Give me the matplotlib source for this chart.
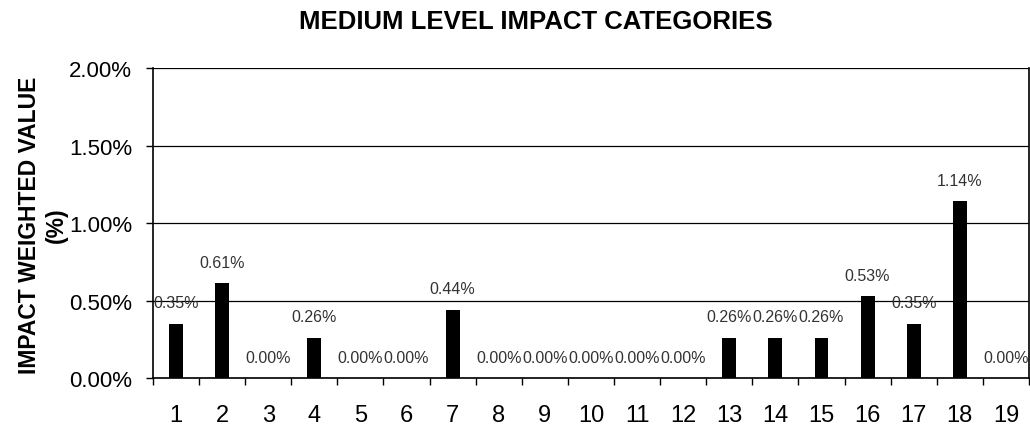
import matplotlib
matplotlib.use("Agg")
import matplotlib.pyplot as plt
from matplotlib.ticker import FuncFormatter, MultipleLocator

categories = [str(i) for i in range(1, 20)]
values = [0.35, 0.61, 0.00, 0.26, 0.00, 0.00, 0.44, 0.00, 0.00, 0.00,
          0.00, 0.00, 0.26, 0.26, 0.26, 0.53, 0.35, 1.14, 0.00]
labels = [f"{v:.2f}%" for v in values]

plt.rcParams["font.family"] = ["Liberation Sans", "DejaVu Sans"]

fig = plt.figure(figsize=(10.3, 4.27), dpi=100)
ax = fig.add_axes([0.1485, 0.1124, 0.8505, 0.726])

x = list(range(len(categories)))
ax.bar(x, values, width=0.3, color="black", zorder=3)

for xi, v, lab in zip(x, values, labels):
    ax.annotate(lab, (xi, v), xytext=(0, 15), textcoords="offset points",
                ha="center", va="center", fontsize=11.5, color="#333333")

ax.set_xlim(-0.5, len(categories) - 0.5)
ax.set_ylim(0, 2.0)
ax.yaxis.set_major_locator(MultipleLocator(0.5))
ax.yaxis.set_major_formatter(FuncFormatter(lambda v, _: f"{v:.2f}%"))
ax.grid(axis="y", color="black", lw=0.9, zorder=1)

ax.set_xticks(x)
ax.set_xticklabels(categories)
ax.set_xticks([i + 0.5 for i in range(-1, len(categories))], minor=True)
ax.tick_params(axis="x", which="major", length=0, labelsize=17, pad=19)
ax.tick_params(axis="x", which="minor", length=5, width=1, direction="out")
ax.tick_params(axis="y", length=5, width=1, direction="out", labelsize=16, pad=10)

ax.spines["top"].set_visible(False)
for s in ("left", "bottom", "right"):
    ax.spines[s].set_linewidth(1.2)

fig.text(0.52, 0.948, "MEDIUM LEVEL IMPACT CATEGORIES", ha="center", va="center",
         fontsize=18.5, fontweight="bold")
fig.text(0.042, 0.473, "IMPACT WEIGHTED VALUE\n(%)", ha="center", va="center",
         rotation=90, fontsize=16.5, fontweight="bold", linespacing=1.2)

fig.savefig("out.png", dpi=100)
